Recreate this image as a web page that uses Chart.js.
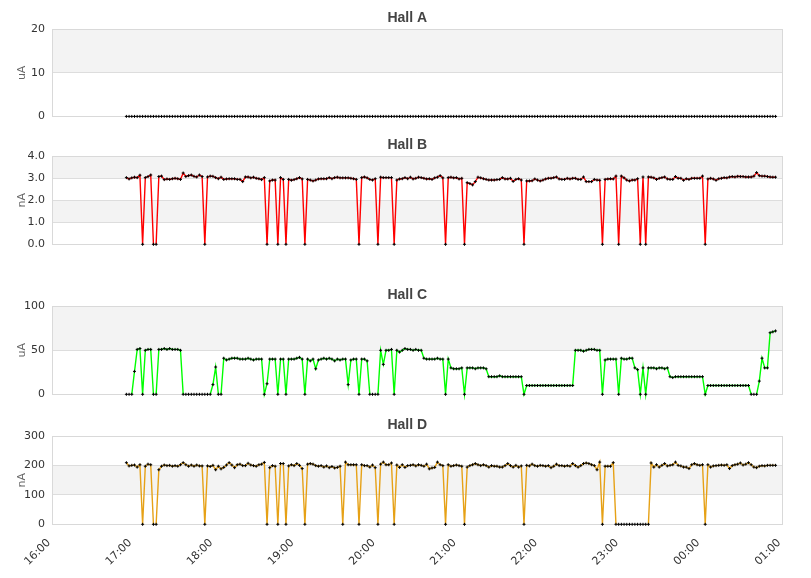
<!DOCTYPE html>
<html>
<head>
<meta charset="utf-8">
<script src="https://cdn.jsdelivr.net/npm/chart.js@4.4.1/dist/chart.umd.min.js"></script>
<style>
html,body{margin:0;padding:0;background:#ffffff;}
#wrap{position:relative;width:811px;height:578px;overflow:hidden;background:#ffffff;}
#wrap canvas{position:absolute;left:0;}
</style>
</head>
<body>
<div id="wrap">
<canvas id="cA" width="811" height="130" style="top:0px"></canvas>
<canvas id="cB" width="811" height="132" style="top:130px"></canvas>
<canvas id="cC" width="811" height="150" style="top:262px"></canvas>
<canvas id="cD" width="811" height="166" style="top:412px"></canvas>
</div>
<script>
// ---------- data ----------
const hourLabels = ['16:00','17:00','18:00','19:00','20:00','21:00','22:00','23:00','00:00','01:00'];
const sampleStartMinute = 55;   // minutes after 16:00 of the first sample
const sampleStepMinutes = 2;    // sampling interval

const hallA = [
0,0,0,0,0,0,0,0,0,0, 0,0,0,0,0,0,0,0,0,0, 0,0,0,0,0,0,0,0,0,0, 0,0,0,0,0,0,0,0,0,0,
0,0,0,0,0,0,0,0,0,0, 0,0,0,0,0,0,0,0,0,0, 0,0,0,0,0,0,0,0,0,0, 0,0,0,0,0,0,0,0,0,0,
0,0,0,0,0,0,0,0,0,0, 0,0,0,0,0,0,0,0,0,0, 0,0,0,0,0,0,0,0,0,0, 0,0,0,0,0,0,0,0,0,0,
0,0,0,0,0,0,0,0,0,0, 0,0,0,0,0,0,0,0,0,0, 0,0,0,0,0,0,0,0,0,0, 0,0,0,0,0,0,0,0,0,0,
0,0,0,0,0,0,0,0,0,0, 0,0,0,0,0,0,0,0,0,0, 0,0,0,0,0,0,0,0,0,0, 0,0,0,0,0,0,0,0,0,0,
0,0,0,0,0,0,0,0,0,0, 0,0,0,0,0,0,0,0,0,0, 0,0,0,0,0,0,0,0,0,0, 0,0,0,0,0,0,0,0,0,0,
0
];

const hallB = [
3.03,2.97,3.02,3.05,3.03,3.14,0,3.03,3.08,3.15,
0,0,3.08,3.10,2.94,2.97,2.95,2.98,3.00,2.98,
2.95,3.24,3.08,3.12,3.15,3.09,3.06,3.15,3.08,0,
3.06,3.10,3.09,3.03,2.98,3.05,2.95,2.97,2.98,2.98,
2.98,2.95,2.95,2.85,3.06,3.06,3.02,3.05,3.00,2.98,
2.94,3.03,0,2.88,2.92,2.92,0,3.03,2.95,0,
2.95,2.91,2.94,2.98,3.03,2.97,0,2.95,2.92,2.88,
2.92,2.97,2.98,2.98,2.98,3.03,2.98,3.03,3.05,3.02,
3.02,3.02,3.02,3.00,2.98,2.95,0,3.03,3.06,3.02,
2.95,2.92,2.98,0,3.05,3.03,3.03,3.03,3.03,0,
2.92,2.97,2.98,3.03,2.98,3.05,2.97,3.00,3.05,3.03,
3.00,2.97,2.98,2.95,3.02,3.05,3.12,3.02,0,3.03,
3.05,3.02,3.03,2.97,3.00,0,2.80,2.76,2.70,2.85,
3.05,3.02,2.98,2.95,2.92,2.92,2.92,2.94,2.95,3.03,
2.97,2.97,3.00,2.86,2.95,2.98,2.92,0,2.88,2.88,
2.89,2.97,2.92,2.88,2.92,2.97,3.00,3.00,3.03,3.06,
2.97,2.95,2.95,3.00,2.97,3.00,3.00,2.95,2.95,3.06,
2.85,2.85,2.85,2.95,2.92,2.91,0,2.95,2.97,2.98,
2.97,3.10,0,3.10,3.02,2.92,2.88,2.92,2.92,2.98,
0,3.06,0,3.06,3.05,3.02,2.95,3.00,3.03,3.06,
2.97,2.95,2.95,3.08,3.00,3.00,2.91,2.98,2.95,3.00,
3.00,3.00,3.00,3.10,0,2.97,3.00,2.97,2.91,2.98,
3.00,3.03,3.02,3.06,3.08,3.06,3.09,3.08,3.08,3.06,
3.06,3.06,3.10,3.26,3.12,3.10,3.10,3.08,3.06,3.05,
3.05
];

const hallC = [
0,0,0,26,51,52,0,50,51,51,
0,0,51,51,52,51,52,51,51,51,
50,0,0,0,0,0,0,0,0,0,
0,0,11,31,0,0,41,39,40,41,
41,41,40,40,40,41,40,39,40,40,
40,0,12,40,40,40,0,40,40,0,
40,40,40,41,42,40,0,40,38,40,
29,39,40,41,40,41,40,38,40,39,
40,40,11,39,40,40,0,40,40,38,
0,0,0,0,50,34,50,50,51,0,
50,48,50,52,51,51,50,51,50,50,
41,40,40,40,40,41,40,40,0,40,
30,29,29,29,30,0,30,30,30,29,
30,30,30,29,20,20,20,20,21,20,
20,20,20,20,20,20,20,0,10,10,
10,10,10,10,10,10,10,10,10,10,
10,10,10,10,10,10,50,50,50,49,
50,51,51,51,50,50,0,39,40,40,
40,40,0,41,40,40,41,41,30,28,
0,30,0,30,30,30,29,30,30,29,
30,20,19,20,20,20,20,20,20,20,
20,20,20,20,0,10,10,10,10,10,
10,10,10,10,10,10,10,10,10,10,
10,0,0,0,15,41,30,30,70,71,
72
];

const hallD = [
210,199,201,202,195,203,0,198,205,203,
0,0,186,198,202,200,201,198,200,198,
203,210,203,198,202,198,202,199,199,0,
199,197,201,186,198,189,194,202,210,202,
193,203,205,200,200,208,202,200,198,203,
205,211,0,193,200,198,0,207,207,0,
199,203,200,207,201,190,0,205,207,205,
200,198,200,195,199,193,197,192,194,198,
0,212,203,203,203,203,0,203,200,200,
195,202,193,0,205,212,203,203,209,0,
202,194,203,194,200,201,203,199,203,201,
198,205,189,192,194,212,203,200,0,203,
198,200,202,200,198,0,195,200,203,207,
203,200,203,200,195,200,198,198,195,195,
200,207,200,195,201,195,199,0,201,199,
205,200,198,201,200,198,200,193,198,205,
200,200,198,200,198,207,200,195,200,207,
209,207,203,200,186,212,0,198,198,198,
210,0,0,0,0,0,0,0,0,0,
0,0,0,0,209,195,203,195,201,207,
199,201,203,212,201,199,195,195,190,203,
207,203,201,203,0,203,195,199,200,201,
202,201,203,190,200,203,205,209,202,205,
210,203,195,193,198,200,199,201,201,201,
201
];

const yTicksA = [0, 10, 20];
const yTicksB = [0, 1, 2, 3, 4];
const yTicksC = [0, 50, 100];
const yTicksD = [0, 100, 200, 300];

const sampleMinutes = hallA.map((_, i) => sampleStartMinute + i * sampleStepMinutes);

// ---------- styling / layout ----------
const FONT = "'DejaVu Sans', sans-serif";
const TITLE_SIZE = 14;
const TITLE_LH = TITLE_SIZE * 1.2;
const PAD_LEFT = 3.6, PLOT_LEFT = 52, RIGHT_GAP = 28.7;

const panels = [
  {id:'cA', title:'Hall A', unit:'uA', values:hallA, color:'#000000', ticks:yTicksA, decimals:0,
   canvasTop:0, canvasHeight:130, titleCenter:18.3, plotTop:29.3, plotBottom:117.3, xAxis:false},
  {id:'cB', title:'Hall B', unit:'nA', values:hallB, color:'#ff0000', ticks:yTicksB, decimals:1,
   canvasTop:130, canvasHeight:132, titleCenter:145.3, plotTop:156.3, plotBottom:244.3, xAxis:false},
  {id:'cC', title:'Hall C', unit:'uA', values:hallC, color:'#00ff00', ticks:yTicksC, decimals:0,
   canvasTop:262, canvasHeight:150, titleCenter:295.5, plotTop:306.3, plotBottom:394.3, xAxis:false},
  {id:'cD', title:'Hall D', unit:'nA', values:hallD, color:'#e6a116', ticks:yTicksD, decimals:0,
   canvasTop:412, canvasHeight:166, titleCenter:425.5, plotTop:436.3, plotBottom:524.3, xAxis:true}
];

const bandsPlugin = {
  id: 'bands',
  beforeDraw(chart) {
    const {ctx, chartArea: a} = chart;
    const y = chart.scales.y;
    const t = y.ticks;
    ctx.save();
    ctx.fillStyle = '#f3f3f3';
    for (let k = 1; k < t.length - 1; k += 2) {
      const y0 = y.getPixelForValue(t[k].value);
      const y1 = y.getPixelForValue(t[k + 1].value);
      ctx.fillRect(a.left, y1, a.right - a.left, y0 - y1);
    }
    ctx.restore();
  },
  beforeDatasetsDraw(chart) {
    const {ctx, chartArea: a} = chart;
    ctx.save();
    ctx.strokeStyle = '#d9d9d9';
    ctx.lineWidth = 1;
    const l = Math.round(a.left) + 0.5, t = Math.round(a.top) + 0.5;
    const r = Math.round(a.right) + 0.5, b = Math.round(a.bottom) + 0.5;
    ctx.strokeRect(l, t, r - l, b - t);
    ctx.restore();
  }
};

function build(p) {
  const padTop = p.titleCenter - p.canvasTop - TITLE_LH / 2;
  const titlePadBottom = p.plotTop - p.titleCenter - TITLE_LH / 2;
  const below = p.canvasTop + p.canvasHeight - p.plotBottom;
  const padBottom = p.xAxis ? 0 : below;
  const xAxisHeight = below;
  const yStep = p.ticks[1] - p.ticks[0];

  const xScale = {
    type: 'linear',
    min: 0,
    max: 540,
    display: p.xAxis,
    grid: {display: false, drawTicks: false},
    border: {display: false},
    ticks: {
      stepSize: 60,
      autoSkip: false,
      minRotation: 45,
      maxRotation: 45,
      padding: 12,
      labelOffset: -3,
      color: '#333333',
      font: {family: FONT, size: 11},
      callback: (v) => hourLabels[Math.round(v / 60)]
    },
    afterFit: (s) => { if (p.xAxis) s.height = xAxisHeight; }
  };

  new Chart(document.getElementById(p.id), {
    type: 'line',
    data: {
      datasets: [{
        data: p.values.map((v, i) => ({x: sampleMinutes[i], y: v})),
        borderColor: p.color,
        borderWidth: 1.4,
        tension: 0,
        fill: false,
        clip: 6,
        pointStyle: 'cross',
        pointRadius: 1.5,
        pointBorderWidth: 1,
        pointBorderColor: '#000000',
        pointBackgroundColor: '#000000',
        segment: {
          borderColor: (c) => (c.p0.parsed.y === 0 && c.p1.parsed.y === 0) ? 'rgba(0,0,0,0)' : undefined
        }
      }]
    },
    options: {
      responsive: false,
      animation: false,
      devicePixelRatio: 1,
      events: [],
      layout: {padding: {left: PAD_LEFT, right: 0, top: padTop, bottom: padBottom}},
      plugins: {
        legend: {display: false},
        tooltip: {enabled: false},
        title: {
          display: true,
          text: p.title,
          color: '#444444',
          font: {family: "'Liberation Sans', Arial, sans-serif", size: TITLE_SIZE, weight: 'bold', lineHeight: 1.2},
          padding: {top: 0, bottom: titlePadBottom}
        }
      },
      scales: {
        x: xScale,
        y: {
          min: p.ticks[0],
          max: p.ticks[p.ticks.length - 1],
          grid: {color: '#dddddd', lineWidth: 1, drawTicks: false},
          border: {display: false},
          ticks: {
            stepSize: yStep,
            padding: 7,
            color: '#333333',
            font: {family: FONT, size: 11},
            callback: (v) => Number(v).toFixed(p.decimals)
          },
          title: {
            display: true,
            text: p.unit,
            color: '#666666',
            font: {family: FONT, size: 11},
            padding: {top: 22.6 - 6.6 - PAD_LEFT, bottom: 0}
          },
          afterFit: (s) => { s.width = PLOT_LEFT - PAD_LEFT; }
        },
        yRight: {
          position: 'right',
          min: 0,
          max: 1,
          grid: {display: false, drawTicks: false},
          border: {display: false},
          ticks: {display: false},
          title: {display: false},
          afterFit: (s) => { s.width = RIGHT_GAP; }
        }
      }
    },
    plugins: [bandsPlugin]
  });
}

panels.forEach(build);
</script>
</body>
</html>
